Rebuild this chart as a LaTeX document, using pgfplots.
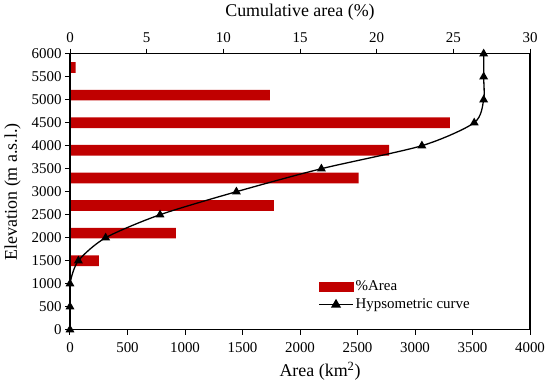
\documentclass[border=0pt]{standalone}
\usepackage{fontspec}
\setmainfont{Liberation Serif}
\usepackage{pgfplots}
\pgfplotsset{compat=1.18}
\definecolor{barred}{RGB}{192,0,0}
\begin{document}
\begin{tikzpicture}
\path[use as bounding box] (-70bp,-55bp) rectangle (480bp,329.7bp);
% top axis: percent area bars
\begin{axis}[
  at={(0,0)}, anchor=south west,
  scale only axis, width=460bp, height=276bp,
  xmin=0, xmax=30, ymin=0, ymax=6000,
  axis x line*=top, axis y line=none,
  xtick={0,5,...,30},
  tick align=outside, major tick length=5bp,
  axis line style={line width=1.2bp},
  every tick/.style={black, line width=1bp},
  tick label style={font=\fontsize{15}{15}\selectfont},
  xticklabel style={yshift=3bp},
  /pgf/number format/assume math mode=true,
  xlabel={Cumulative area (\%)},
  xlabel style={font=\fontsize{18}{18}\selectfont, yshift=5bp},
  xbar, bar width=10.7bp, bar shift=0pt,
]
\addplot[fill=barred, draw=none] coordinates {
  (0.37,5700) (13.03,5100) (24.77,4500) (20.81,3900)
  (18.83,3300) (13.3,2700) (6.9,2100) (1.89,1500)
};
\end{axis}
% bottom axis: hypsometric curve
\begin{axis}[
  at={(0,0)}, anchor=south west,
  scale only axis, width=460bp, height=276bp,
  xmin=0, xmax=4000, ymin=0, ymax=6000,
  xtick={0,500,...,4000}, ytick={0,500,...,6000},
  xtick pos=bottom, ytick pos=left,
  tick align=outside, major tick length=5bp,
  axis line style={line width=1.2bp},
  every tick/.style={black, line width=1bp},
  tick label style={font=\fontsize{15}{15}\selectfont},
  xticklabel style={yshift=-4bp},
  scaled ticks=false,
  /pgf/number format/assume math mode=true,
  /pgf/number format/1000 sep={},
  xlabel={Area (km\textsuperscript{2})},
  ylabel={Elevation (m a.s.l.)},
  xlabel style={font=\fontsize{18}{18}\selectfont, xshift=20bp, yshift=-3bp},
  ylabel style={font=\fontsize{18}{18}\selectfont, yshift=4bp},
  legend style={at={(0.533,0.055)}, anchor=south west, draw=none, fill=none,
    font=\fontsize{15}{15}\selectfont, row sep=3bp},
  legend cell align=left,
]
\addlegendimage{legend image code/.code={\fill[barred] (0bp,-4.5bp) rectangle (34bp,4.5bp);}}
\addlegendentry{\%Area}
\addplot[black, line width=1.3bp, smooth, tension=0.45, mark=triangle*, mark size=3.8bp,
  mark options={solid},
  legend image code/.code={\draw[black, line width=1.3bp] (0bp,0bp) -- (34bp,0bp);
    \fill[black] (17bp,0bp) ++(90:4.5bp) -- ++(-120:7.8bp) -- ++(0:7.8bp) -- cycle;}]
  coordinates {
  (0,0) (0,500) (0,1000) (73,1500) (310,2000) (783,2500) (1447,3000)
  (2186,3500) (3060,4000) (3515,4500) (3597,5000) (3597,5500) (3597,6000)
};
\addlegendentry{Hypsometric curve}
\end{axis}
\end{tikzpicture}
\end{document}
